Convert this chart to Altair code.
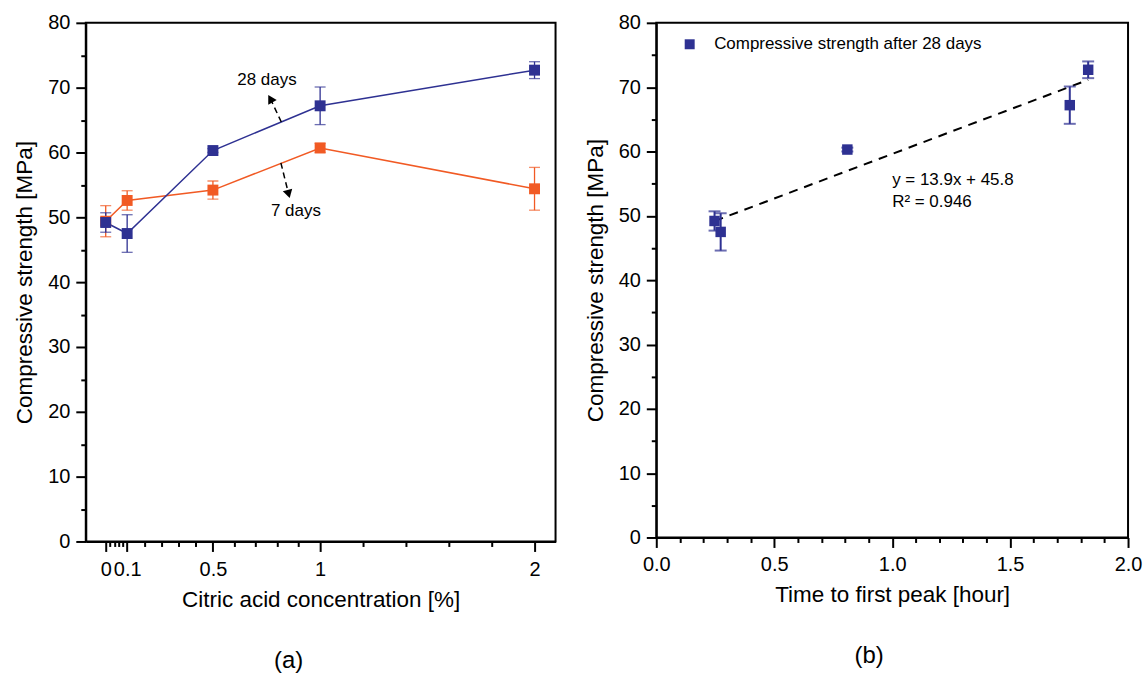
import altair as alt
import pandas as pd

# ---------------- data ----------------
conc = [0, 0.1, 0.5, 1, 2]                 # citric acid concentration [%]
cs_28 = [49.2, 47.5, 60.3, 67.2, 72.7]     # compressive strength after 28 days [MPa]
err_28 = [1.5, 2.9, 0.3, 2.9, 1.3]
cs_7 = [49.4, 52.6, 54.2, 60.7, 54.4]      # compressive strength after 7 days [MPa]
err_7 = [2.4, 1.5, 1.4, 0.7, 3.3]

peak_time = [0.247, 0.273, 0.81, 1.753, 1.831]   # time to first peak [hour]

x_major_a = [0, 0.1, 0.5, 1, 2]
x_minor_a = [0.02, 0.04, 0.06, 0.08, 0.18, 0.26, 0.34, 0.42,
             0.6, 0.7, 0.8, 0.9, 1.2, 1.4, 1.6, 1.8]
y_major = [0, 10, 20, 30, 40, 50, 60, 70, 80]
y_minor = [5, 15, 25, 35, 45, 55, 65, 75]
x_major_b = [0, 0.5, 1.0, 1.5, 2.0]
x_minor_b = [0.1, 0.2, 0.3, 0.4, 0.6, 0.7, 0.8, 0.9,
             1.1, 1.2, 1.3, 1.4, 1.6, 1.7, 1.8, 1.9]

# annotations (data coordinates)
ann_text = ["28 days", "7 days"]
ann_tx = [0.752, 0.887]
ann_ty = [71.2, 50.9]
arrow_x0 = [0.819, 0.817]
arrow_y0 = [64.7, 58.4]
arrow_x1 = [0.768, 0.853]
arrow_y1 = [68.3, 53.6]
arrow_angle = [330, 165]

eq_text = ["y = 13.9x + 45.8", "R\u00b2 = 0.946"]
eq_x = [1.0, 1.0]
eq_y = [55.6, 52.2]

BLUE = "#2E3192"
ORANGE = "#F15A24"
FONT = "Liberation Sans"

# ---------------- panel (a) ----------------
dfa = pd.DataFrame({
    "conc": conc + conc,
    "cs": cs_7 + cs_28,
    "err": err_7 + err_28,
    "age": ["7 days"] * 5 + ["28 days"] * 5,
})
dfa["lo"] = dfa["cs"] - dfa["err"]
dfa["hi"] = dfa["cs"] + dfa["err"]

xs_a = alt.Scale(domain=[-0.093, 2.098], nice=False, zero=False)
ys = alt.Scale(domain=[0, 80], nice=False)
col = alt.Scale(domain=["7 days", "28 days"], range=[ORANGE, BLUE])

ax_x_major_a = alt.Axis(values=x_major_a, labelExpr="toString(datum.value)",
                        title="Citric acid concentration [%]", orient="bottom",
                        labelOverlap=False, labelFlush=False, tickSize=10,
                        labelPadding=8, titlePadding=9)
ax_x_minor_a = alt.Axis(values=x_minor_a, labels=False, title=None, orient="bottom",
                        tickSize=5, domain=False)
ax_y_major = alt.Axis(values=y_major, title="Compressive strength [MPa]", orient="left",
                      tickSize=10, labelPadding=6, titlePadding=11)
ax_y_minor = alt.Axis(values=y_minor, labels=False, title=None, orient="left",
                      tickSize=5, domain=False)

base_a = alt.Chart(dfa)
line_a = base_a.mark_line(strokeWidth=1.5).encode(
    x=alt.X("conc:Q", scale=xs_a, axis=None),
    y=alt.Y("cs:Q", scale=ys, axis=None),
    color=alt.Color("age:N", scale=col, legend=None),
    order=alt.Order("conc:Q"),
)
rule_a = base_a.mark_rule(strokeWidth=1.3).encode(
    x=alt.X("conc:Q", scale=xs_a, axis=ax_x_minor_a),
    y=alt.Y("lo:Q", scale=ys, axis=ax_y_minor),
    y2="hi:Q",
    color=alt.Color("age:N", scale=col, legend=None),
)
cap_lo_a = base_a.mark_tick(orient="horizontal", size=11, thickness=1.3).encode(
    x=alt.X("conc:Q", scale=xs_a, axis=None),
    y=alt.Y("lo:Q", scale=ys, axis=None),
    color=alt.Color("age:N", scale=col, legend=None),
)
cap_hi_a = base_a.mark_tick(orient="horizontal", size=11, thickness=1.3).encode(
    x=alt.X("conc:Q", scale=xs_a, axis=None),
    y=alt.Y("hi:Q", scale=ys, axis=None),
    color=alt.Color("age:N", scale=col, legend=None),
)
pts_a = base_a.mark_point(shape="square", filled=True, opacity=1, size=120).encode(
    x=alt.X("conc:Q", scale=xs_a, axis=ax_x_major_a),
    y=alt.Y("cs:Q", scale=ys, axis=ax_y_major),
    color=alt.Color("age:N", scale=col, legend=None),
)

dfann = pd.DataFrame({"t": ann_text, "tx": ann_tx, "ty": ann_ty,
                      "x0": arrow_x0, "y0": arrow_y0, "x1": arrow_x1, "y1": arrow_y1,
                      "ang": arrow_angle})
ann_txt = alt.Chart(dfann).mark_text(fontSize=17, color="black", font=FONT).encode(
    x=alt.X("tx:Q", scale=xs_a, axis=None),
    y=alt.Y("ty:Q", scale=ys, axis=None),
    text="t:N",
)
ann_line = alt.Chart(dfann).mark_rule(color="black", strokeWidth=1.5, strokeDash=[6, 4]).encode(
    x=alt.X("x0:Q", scale=xs_a, axis=None),
    y=alt.Y("y0:Q", scale=ys, axis=None),
    x2="x1:Q", y2="y1:Q",
)
ann_head = alt.Chart(dfann).mark_point(shape="triangle-up", filled=True, opacity=1,
                                       color="black", size=95).encode(
    x=alt.X("x1:Q", scale=xs_a, axis=None),
    y=alt.Y("y1:Q", scale=ys, axis=None),
    angle=alt.Angle("ang:Q", scale=None),
)

left = alt.layer(line_a, rule_a, cap_lo_a, cap_hi_a, pts_a, ann_line, ann_head, ann_txt).resolve_axis(
    x="independent", y="independent"
).properties(
    width=471, height=520,
    title=alt.TitleParams("(a)", orient="bottom", fontSize=24, fontWeight="normal",
                          font=FONT, anchor="middle", frame="bounds", offset=38, dx=4),
)

# ---------------- panel (b) ----------------
dfb = pd.DataFrame({"t": peak_time, "cs": cs_28, "err": err_28,
                    "lab": ["Compressive strength after 28 days"] * 5})
dfb["lo"] = dfb["cs"] - dfb["err"]
dfb["hi"] = dfb["cs"] + dfb["err"]

xs_b = alt.Scale(domain=[0, 2], nice=False)
col_b = alt.Scale(domain=["Compressive strength after 28 days"], range=[BLUE])

ax_x_major_b = alt.Axis(values=x_major_b, format=".1f", title="Time to first peak [hour]",
                        orient="bottom", labelOverlap=False, labelFlush=False, tickSize=10,
                        labelPadding=7, titlePadding=9)
ax_x_minor_b = alt.Axis(values=x_minor_b, labels=False, title=None, orient="bottom",
                        tickSize=5, domain=False)

base_b = alt.Chart(dfb)
reg_b = base_b.transform_regression("t", "cs").mark_line(
    color="black", strokeWidth=2, strokeDash=[9, 7]
).encode(
    x=alt.X("t:Q", scale=xs_b, axis=None),
    y=alt.Y("cs:Q", scale=ys, axis=None),
)
rule_b = base_b.mark_rule(strokeWidth=2, color=BLUE).encode(
    x=alt.X("t:Q", scale=xs_b, axis=ax_x_minor_b),
    y=alt.Y("lo:Q", scale=ys, axis=ax_y_minor),
    y2="hi:Q",
)
cap_lo_b = base_b.mark_tick(orient="horizontal", size=12, thickness=2, color=BLUE).encode(
    x=alt.X("t:Q", scale=xs_b, axis=None),
    y=alt.Y("lo:Q", scale=ys, axis=None),
)
cap_hi_b = base_b.mark_tick(orient="horizontal", size=12, thickness=2, color=BLUE).encode(
    x=alt.X("t:Q", scale=xs_b, axis=None),
    y=alt.Y("hi:Q", scale=ys, axis=None),
)
pts_b = base_b.mark_point(shape="square", filled=True, opacity=1, size=110).encode(
    x=alt.X("t:Q", scale=xs_b, axis=ax_x_major_b),
    y=alt.Y("cs:Q", scale=ys, axis=ax_y_major),
    color=alt.Color("lab:N", scale=col_b, legend=alt.Legend(
        orient="none", legendX=25, legendY=13, title=None, symbolType="square",
        symbolSize=100, labelFontSize=17, labelFont=FONT, labelOffset=16,
        padding=0, symbolStrokeWidth=0, labelColor="black", labelLimit=400,
    )),
)
dfeq = pd.DataFrame({"t": eq_text, "x": eq_x, "y": eq_y})
eq_b = alt.Chart(dfeq).mark_text(fontSize=17, align="left", color="black", font=FONT).encode(
    x=alt.X("x:Q", scale=xs_b, axis=None),
    y=alt.Y("y:Q", scale=ys, axis=None),
    text="t:N",
)

right = alt.layer(reg_b, rule_b, cap_lo_b, cap_hi_b, pts_b, eq_b).resolve_axis(
    x="independent", y="independent"
).properties(
    width=473, height=516,
    title=alt.TitleParams("(b)", orient="bottom", fontSize=24, fontWeight="normal",
                          font=FONT, anchor="middle", frame="bounds", offset=38, dx=6),
)

chart = alt.hconcat(left, right, spacing=26).resolve_scale(
    color="independent"
).resolve_legend(
    color="independent"
).properties(
    padding={"left": 12, "top": 11, "right": 0, "bottom": 0}
).configure_view(
    stroke="black", strokeWidth=2
).configure_axis(
    grid=False, domainColor="black", domainWidth=2, tickColor="black", tickWidth=2,
    labelColor="black", titleColor="black", labelFont=FONT, titleFont=FONT,
    labelFontSize=20, titleFontSize=22.5, titleFontWeight="normal",
)

chart.save("out.html", embed_options={"renderer": "svg", "actions": False})
